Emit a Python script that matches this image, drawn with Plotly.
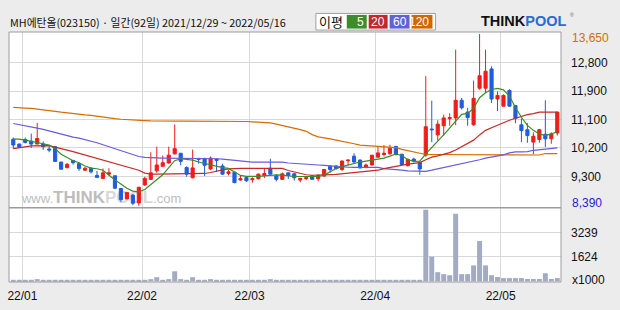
import plotly.graph_objects as go

# ---------------- data ----------------
TITLE = "MH에탄올(023150) · 일간(92일) 2021/12/29 ~ 2022/05/16"
MA_LABELS = ["5", "20", "60", "120"]
MONTH_START = [2, 22, 40, 61, 82]          # trading-day index of first day of month
MONTH_LABELS = ["22/01", "22/02", "22/03", "22/04", "22/05"]
PRICE_TICKS = [12768, 11902, 11035, 10162, 9287]
PRICE_TICK_TEXT = ["12,800", "11,900", "11,100", "10,200", "9,300"]
VOL_TICKS = [1624, 3239]
VOL_TICK_TEXT = ["1624", "3239"]
VOL_UNIT = "x1000"

OPEN = [10430, 10280, 10420, 10370, 10280, 10280, 10130, 10200, 9730, 9560,
        9780, 9680, 9480, 9540, 9320, 9230, 9360, 9310, 8920, 8600,
        8720, 8480, 9030, 9200, 9460, 9600, 9700, 9980, 10000, 9560,
        9250, 9840, 9840, 9520, 9820, 9610, 9380, 9420, 9180, 9260,
        9190, 9220, 9320, 9540, 9310, 9200, 9400, 9370, 9180, 9220,
        9310, 9220, 9300, 9600, 9610, 9500, 9770, 9910, 9790, 9580,
        9640, 9880, 9960, 9980, 10210, 9970, 9620, 9820, 9720, 9940,
        10740, 10560, 10840, 11060, 11080, 11620, 11260, 10870, 11990, 11990,
        12580, 11660, 11440, 11920, 11460, 10870, 10720, 10340, 10420, 10580,
        10440, 10620]
HIGH = [10480, 10300, 10480, 10600, 10930, 10360, 10230, 10200, 9730, 9700,
        9780, 9720, 9580, 9580, 9460, 9530, 9540, 9310, 8920, 8800,
        8740, 8960, 9280, 10030, 10200, 9930, 10200, 10880, 10000, 9600,
        10110, 9860, 9860, 9900, 9840, 9680, 9500, 9420, 9320, 9280,
        9260, 9380, 9530, 9830, 9360, 9410, 9420, 9400, 9250, 9270,
        9310, 9350, 9520, 9630, 9630, 9780, 9800, 10000, 9810, 9680,
        9940, 10180, 10250, 10260, 10220, 9970, 9840, 9860, 9740, 12360,
        11610, 11010, 11180, 11220, 13170, 11690, 11390, 12220, 13650, 13170,
        12660, 11890, 11800, 11960, 11480, 11060, 10920, 10640, 10740, 11620,
        10640, 11260]
LOW = [10130, 10160, 10300, 10160, 10280, 10100, 10030, 9730, 9510, 9530,
       9650, 9460, 9460, 9380, 9260, 9210, 9320, 8900, 8510, 8600,
       8410, 8390, 9000, 9180, 9400, 9580, 9680, 9960, 9630, 9280,
       9230, 9680, 9300, 9480, 9430, 9340, 9320, 9080, 9160, 9120,
       9100, 9200, 9240, 9340, 9140, 9180, 9210, 9160, 9110, 9180,
       9200, 9140, 9280, 9400, 9500, 9460, 9630, 9710, 9530, 9540,
       9630, 9860, 9900, 9960, 9930, 9630, 9590, 9720, 9340, 9890,
       10340, 10390, 10540, 10840, 10860, 11340, 10840, 10840, 11940, 11840,
       11540, 11290, 11440, 11420, 10920, 10340, 10320, 9970, 10320, 10190,
       10290, 10540]
CLOSE = [10250, 10180, 10330, 10280, 10450, 10200, 10100, 9750, 9510, 9660,
         9710, 9530, 9540, 9430, 9260, 9400, 9400, 8930, 8580, 8800,
         8470, 8960, 9230, 9400, 9640, 9710, 9940, 10140, 9750, 9360,
         9550, 9810, 9630, 9850, 9780, 9360, 9430, 9100, 9220, 9160,
         9220, 9360, 9380, 9360, 9200, 9370, 9320, 9250, 9230, 9250,
         9200, 9320, 9500, 9500, 9530, 9760, 9790, 9730, 9550, 9640,
         9940, 10010, 10000, 10150, 9960, 9650, 9810, 9760, 9520, 10810,
         10720, 10890, 11080, 11090, 11620, 11390, 11090, 11680, 12370, 12510,
         11660, 11770, 11770, 11440, 11060, 10690, 10540, 10520, 10720, 10440,
         10590, 11260]
VOLUME = [60, 60, 60, 60, 150, 60, 60, 60, 60, 60,
          60, 60, 60, 60, 60, 60, 60, 60, 60, 60,
          60, 60, 60, 150, 280, 60, 150, 670, 150, 60,
          280, 60, 60, 150, 60, 60, 60, 60, 60, 60,
          60, 60, 60, 150, 60, 60, 60, 60, 60, 60,
          60, 60, 60, 60, 60, 60, 60, 60, 60, 60,
          60, 60, 90, 90, 90, 90, 90, 90, 90,
          4740, 1640, 610, 480, 410, 4480, 480, 480, 1060, 2680,
          1060, 410, 290, 220, 220, 220, 220, 160, 160, 160,
          540, 160, 220]
MA5 = [10430, 10430, 10400, 10370, 10330, 10290, 10250, 10140, 9970, 9860,
       9770, 9710, 9610, 9545, 9525, 9480, 9330, 9180, 9060, 8930,
       8840, 8820, 8890, 9050, 9200, 9340, 9560, 9770, 9830, 9820,
       9790, 9730, 9690, 9630, 9600, 9560, 9535, 9440, 9320, 9290,
       9287, 9290, 9307, 9320, 9340, 9330, 9300, 9287, 9287, 9287,
       9287, 9287, 9330, 9440, 9530, 9590, 9640, 9690, 9730, 9760,
       9790, 9820, 9850, 9910, 9975, 9930, 9800, 9750, 9760, 9980,
       10160, 10370, 10560, 10760, 10960, 11190, 11220, 11370, 11700, 11850,
       11950, 11985, 11940, 11750, 11400, 11100, 10850, 10700, 10590, 10540,
       10590, 10660]
MA20 = [10140, 10160, 10195, 10225, 10234, 10234, 10234, 10185, 10130, 10095,
        10050, 10000, 9940, 9890, 9840, 9790, 9730, 9680, 9630, 9580,
        9530, 9480, 9390, 9360, 9360, 9360, 9360, 9360, 9360, 9360,
        9360, 9360, 9380, 9410, 9460, 9490, 9520, 9535, 9535, 9535,
        9535, 9535, 9535, 9535, 9535, 9535, 9470, 9420, 9370, 9340,
        9325, 9325, 9335, 9345, 9355, 9375, 9385, 9395, 9420, 9440,
        9460, 9480, 9530, 9570, 9600, 9640, 9666, 9690, 9714, 9800,
        9880, 9920, 9960, 10020, 10100, 10200, 10290, 10400, 10560, 10700,
        10780, 10860, 10940, 11010, 11070, 11130, 11180, 11210, 11259, 11259,
        11259, 11259]
MA60 = [10910, 10880, 10840, 10800, 10770, 10730, 10680, 10630, 10580, 10540,
        10495, 10460, 10420, 10380, 10320, 10260, 10200, 10140, 10080, 10020,
        9960, 9900, 9870, 9855, 9855, 9850, 9850, 9845, 9845, 9840,
        9840, 9835, 9835, 9830, 9830, 9820, 9800, 9790, 9770, 9740,
        9726, 9726, 9726, 9726, 9726, 9726, 9700, 9684, 9670, 9660,
        9650, 9640, 9630, 9610, 9600, 9590, 9570, 9565, 9565, 9565,
        9565, 9565, 9530, 9520, 9500, 9480, 9460, 9450, 9445, 9445,
        9480, 9520, 9560, 9590, 9630, 9670, 9700, 9760, 9800, 9850,
        9880, 9910, 9950, 10010, 10040, 10043, 10050, 10090, 10110, 10140,
        10155, 10165]
MA120 = [11400, 11400, 11380, 11370, 11350, 11330, 11320, 11280, 11255, 11230,
         11210, 11190, 11175, 11160, 11130, 11105, 11080, 11060, 11040, 11025,
         11020, 11010, 11000, 10990, 10985, 10985, 10985, 10985, 10985, 10985,
         10985, 10985, 10985, 10985, 10985, 10985, 10985, 10980, 10980, 10970,
         10960, 10950, 10940, 10930, 10890, 10850, 10820, 10780, 10720, 10670,
         10570, 10500, 10480, 10440, 10400, 10370, 10330, 10290, 10250, 10234,
         10230, 10204, 10190, 10183, 10170, 10120, 10080, 10030, 9980, 9960,
         9960, 9960, 9960, 9960, 9960, 9960, 9960, 9960, 9960, 9960,
         9960, 9960, 9945, 9945, 9945, 9945, 9945, 9945, 9945, 9990,
         9990, 9990]

# ---------------- styling / geometry ----------------
W, H = 620, 310
L, R, T, B = 7, 561, 32, 288      # plot frame in pixels
SPLIT = 212                        # border between price and volume panels
X_RANGE = [-0.72, 91.62]
PRICE_RANGE = [8330, 13710]
VOL_RANGE = [-39, 4871]

RED, BLUE = "#f01c1c", "#1f5ce0"
MA_COLORS = ["#3a8c28", "#c42a2a", "#6a5adc", "#d86c00"]
BOX_COLORS = ["#3c8c2c", "#c0282c", "#6262d8", "#d06800"]
GRID = "#d8d8d8"
FRAME = "#9c9c9c"
BG = "#ececec"
NUM_FONT = "Liberation Sans"
KR_FONT = "Noto Sans CJK KR"


def fx(p):
    return (p - L) / (R - L)


def fy(p):
    return (B - p) / (B - T)


def px_to_idx(p):
    return X_RANGE[0] + (p - L) / (R - L) * (X_RANGE[1] - X_RANGE[0])


def py_to_price(p):
    return PRICE_RANGE[1] - (p - T) / (SPLIT - T) * (PRICE_RANGE[1] - PRICE_RANGE[0])


idx = list(range(len(CLOSE)))

fig = go.Figure()

# watermark, on the base price axis (drawn below the overlaid candle axis)
wm = ("<span style='font-size:13px'>www.</span><b>THINK</b>"
      "<span style='color:#d9d9d9'><b>POOL</b></span>"
      "<span style='font-size:13px'>.com</span>")
fig.add_trace(go.Scatter(x=[px_to_idx(20)], y=[py_to_price(203)], mode="text",
                         text=[wm], textposition="middle right",
                         textfont=dict(family=NUM_FONT, size=17, color="#bdbdbd"),
                         xaxis="x", yaxis="y", hoverinfo="skip", showlegend=False))

fig.add_trace(go.Bar(x=idx, y=VOLUME, xaxis="x", yaxis="y2",
                     marker=dict(color="#a3abc3", line=dict(width=0)),
                     showlegend=False, hoverinfo="skip"))

fig.add_trace(go.Candlestick(x=idx, open=OPEN, high=HIGH, low=LOW, close=CLOSE,
                             xaxis="x", yaxis="y3", whiskerwidth=0,
                             increasing=dict(line=dict(color=RED, width=1), fillcolor=RED),
                             decreasing=dict(line=dict(color=BLUE, width=1), fillcolor=BLUE),
                             showlegend=False, hoverinfo="skip"))

for ma, col in zip([MA120, MA60, MA20, MA5], MA_COLORS[::-1]):
    fig.add_trace(go.Scatter(x=idx, y=ma, mode="lines", xaxis="x", yaxis="y3",
                             line=dict(color=col, width=1.2), showlegend=False,
                             hoverinfo="skip"))

tickfont = dict(family=NUM_FONT, size=12, color="#111111")

shapes = [
    dict(type="rect", xref="paper", yref="paper", x0=0, x1=1, y0=0, y1=1,
         line=dict(color=FRAME, width=1), layer="above"),
    dict(type="line", xref="paper", yref="paper", x0=0, x1=1, y0=fy(SPLIT), y1=fy(SPLIT),
         line=dict(color=FRAME, width=1.5), layer="above"),
    # legend box
    dict(type="rect", xref="paper", yref="paper", x0=fx(315), x1=fx(435), y0=fy(30), y1=fy(13),
         fillcolor="white", line=dict(color="#a0a0a0", width=1)),
]
annotations = [
    dict(text=TITLE, xref="paper", yref="paper", x=fx(6), y=fy(22), xanchor="left",
         yanchor="middle", showarrow=False, font=dict(family=KR_FONT, size=10.8, color="#111")),
    dict(text="이평", xref="paper", yref="paper", x=fx(330), y=fy(21.5), xanchor="center",
         yanchor="middle", showarrow=False, font=dict(family=KR_FONT, size=13, color="#111")),
]
box_x = [(346, 366), (368, 387), (389, 409), (411, 432)]
for (x0, x1), col, lab in zip(box_x, BOX_COLORS, MA_LABELS):
    shapes.append(dict(type="rect", xref="paper", yref="paper", x0=fx(x0), x1=fx(x1),
                       y0=fy(28.5), y1=fy(14.5), fillcolor=col, line=dict(width=0)))
    annotations.append(dict(text=lab, xref="paper", yref="paper", x=fx(x1 - 1), y=fy(21.5),
                            xanchor="right", yanchor="middle", showarrow=False,
                            font=dict(family=NUM_FONT, size=12, color="white")))

# logo
annotations.append(dict(text="<b>THINK</b><span style='color:#2a6bd3'><b>POOL</b></span>",
                        xref="paper", yref="paper", x=fx(479), y=fy(21), xanchor="left",
                        yanchor="middle", showarrow=False,
                        font=dict(family=NUM_FONT, size=14.5, color="#111")))
annotations.append(dict(text="®", xref="paper", yref="paper", x=fx(568), y=fy(15),
                        xanchor="left", yanchor="middle", showarrow=False,
                        font=dict(family=NUM_FONT, size=5, color="#666")))

# max / min price labels and volume unit
annotations += [
    dict(text=f"{max(HIGH):,}", xref="paper", yref="paper", x=fx(570), y=fy(38.3),
         xanchor="left", yanchor="middle", showarrow=False,
         font=dict(family=NUM_FONT, size=12, color="#d07000")),
    dict(text=f"{min(LOW):,}", xref="paper", yref="paper", x=fx(570), y=fy(206.7),
         xanchor="left", yanchor="middle", showarrow=False,
         font=dict(family=NUM_FONT, size=12, color="#1c1cd8")),
    dict(text=VOL_UNIT, xref="paper", yref="paper", x=fx(570), y=fy(286),
         xanchor="left", yanchor="middle", showarrow=False, font=tickfont),
]

fig.update_layout(
    width=W, height=H,
    margin=dict(l=L, r=W - R, t=T, b=H - B, pad=0),
    paper_bgcolor=BG, plot_bgcolor="white",
    hovermode=False, showlegend=False, bargap=0.17, boxgap=0.25,
    xaxis=dict(domain=[0, 1], range=X_RANGE, anchor="y2",
               tickvals=[m - 0.47 for m in MONTH_START], ticktext=MONTH_LABELS,
               showgrid=True, gridcolor=GRID, gridwidth=1, zeroline=False, showline=False,
               ticks="", ticklabelstandoff=5, tickfont=tickfont,
               rangeslider=dict(visible=False), fixedrange=True),
    yaxis=dict(domain=[fy(SPLIT), 1], range=PRICE_RANGE, anchor="x", side="right",
               tickvals=PRICE_TICKS, ticktext=PRICE_TICK_TEXT, showgrid=True,
               gridcolor=GRID, gridwidth=1, zeroline=False, showline=False, ticks="",
               ticklabelstandoff=9, tickfont=tickfont, fixedrange=True),
    yaxis3=dict(overlaying="y", range=PRICE_RANGE, anchor="x", side="right",
                showgrid=False, zeroline=False, showticklabels=False, fixedrange=True),
    yaxis2=dict(domain=[0, fy(SPLIT)], range=VOL_RANGE, anchor="x", side="right",
                tickvals=VOL_TICKS, ticktext=VOL_TICK_TEXT, showgrid=True,
                gridcolor=GRID, gridwidth=1, zeroline=False, showline=False, ticks="",
                ticklabelstandoff=9, tickfont=tickfont, fixedrange=True),
    shapes=shapes, annotations=annotations,
)

fig.write_html("out.html")
